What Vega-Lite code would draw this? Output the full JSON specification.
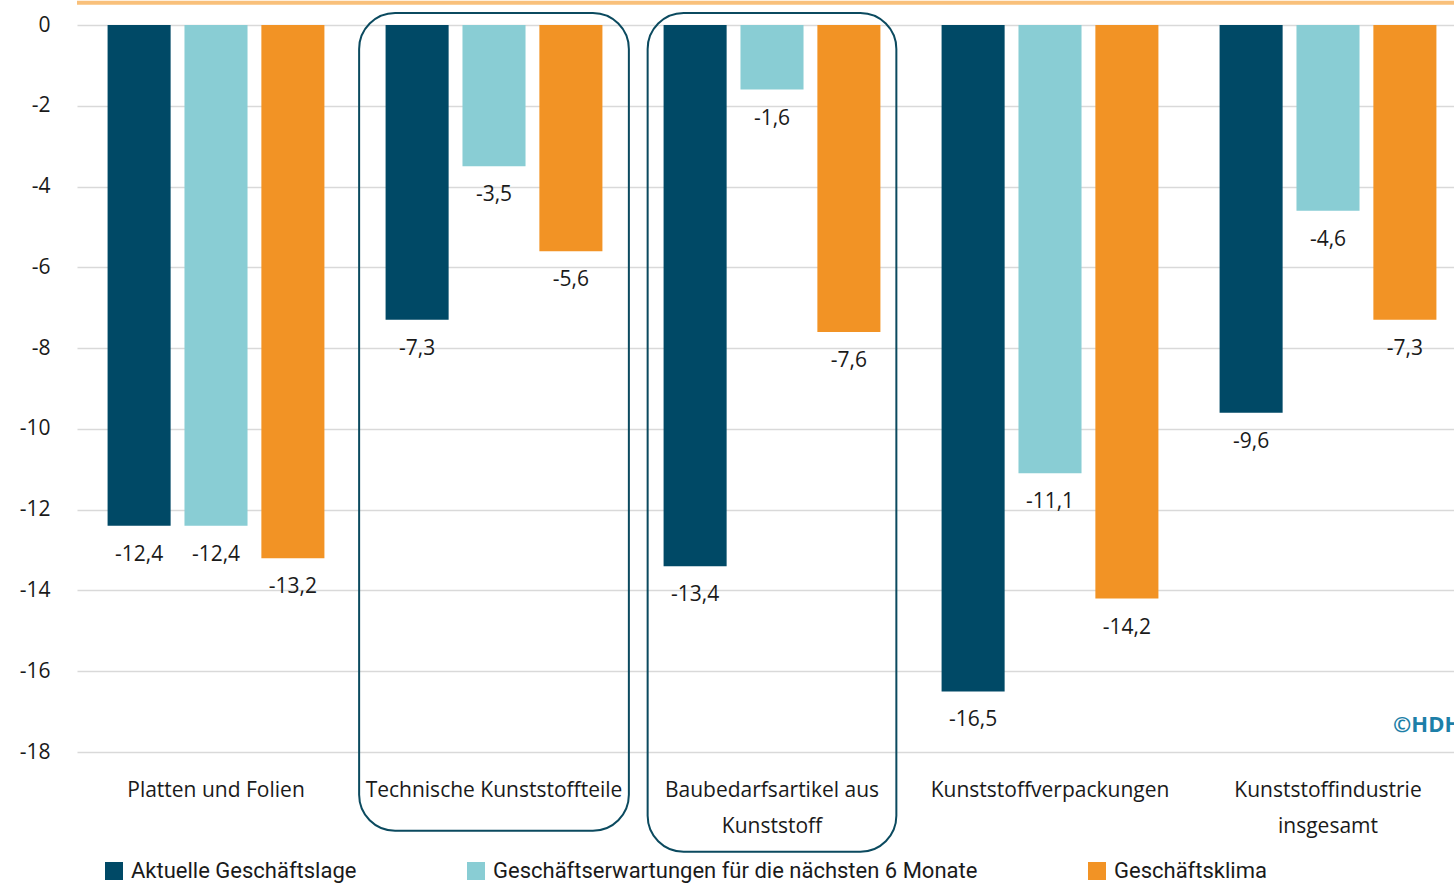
{
  "$schema": "https://vega.github.io/schema/vega-lite/v6.json",
  "width": 1377,
  "height": 727,
  "autosize": "none",
  "padding": {"left": 77, "top": 25, "right": 0, "bottom": 131},
  "config": {
    "view": {"stroke": null},
    "font": "Open Sans",
    "locale": {"number": {"decimal": ",", "thousands": ".", "grouping": [3], "currency": ["", " €"], "minus": "-"}}
  },
  "data": {"values": [
    {"category": "Platten und Folien", "series": "Aktuelle Geschäftslage", "value": -12.4},
    {"category": "Platten und Folien", "series": "Geschäftserwartungen für die nächsten 6 Monate", "value": -12.4},
    {"category": "Platten und Folien", "series": "Geschäftsklima", "value": -13.2},
    {"category": "Technische Kunststoffteile", "series": "Aktuelle Geschäftslage", "value": -7.3},
    {"category": "Technische Kunststoffteile", "series": "Geschäftserwartungen für die nächsten 6 Monate", "value": -3.5},
    {"category": "Technische Kunststoffteile", "series": "Geschäftsklima", "value": -5.6},
    {"category": "Baubedarfsartikel aus Kunststoff", "series": "Aktuelle Geschäftslage", "value": -13.4},
    {"category": "Baubedarfsartikel aus Kunststoff", "series": "Geschäftserwartungen für die nächsten 6 Monate", "value": -1.6},
    {"category": "Baubedarfsartikel aus Kunststoff", "series": "Geschäftsklima", "value": -7.6},
    {"category": "Kunststoffverpackungen", "series": "Aktuelle Geschäftslage", "value": -16.5},
    {"category": "Kunststoffverpackungen", "series": "Geschäftserwartungen für die nächsten 6 Monate", "value": -11.1},
    {"category": "Kunststoffverpackungen", "series": "Geschäftsklima", "value": -14.2},
    {"category": "Kunststoffindustrie insgesamt", "series": "Aktuelle Geschäftslage", "value": -9.6},
    {"category": "Kunststoffindustrie insgesamt", "series": "Geschäftserwartungen für die nächsten 6 Monate", "value": -4.6},
    {"category": "Kunststoffindustrie insgesamt", "series": "Geschäftsklima", "value": -7.3}
  ]},
  "encoding": {
    "x": {
      "field": "category", "type": "nominal",
      "sort": ["Platten und Folien", "Technische Kunststoffteile", "Baubedarfsartikel aus Kunststoff", "Kunststoffverpackungen", "Kunststoffindustrie insgesamt"],
      "scale": {"range": [0, 1390], "paddingInner": 0.22, "paddingOuter": 0.11},
      "axis": {
        "title": null, "domain": false, "ticks": false, "labelAngle": 0,
        "labelFontSize": 21, "labelColor": "#1a1a1a", "labelPadding": 27, "labelLineHeight": 36, "labelLimit": 0,
        "labelExpr": "datum.value == 'Baubedarfsartikel aus Kunststoff' ? ['Baubedarfsartikel aus', 'Kunststoff'] : datum.value == 'Kunststoffindustrie insgesamt' ? ['Kunststoffindustrie', 'insgesamt'] : datum.value"
      }
    },
    "y": {
      "field": "value", "type": "quantitative",
      "scale": {"domain": [-18, 0], "nice": false},
      "axis": {
        "title": null, "domain": false, "ticks": false, "values": [-18, -16, -14, -12, -10, -8, -6, -4, -2, 0],
        "format": "d", "labelFontSize": 21, "labelColor": "#1a1a1a", "labelPadding": 27,
        "gridColor": "#d9d9d9", "gridWidth": 1.5
      }
    }
  },
  "layer": [
    {
      "data": {"values": [{"level": 0.55}]},
      "mark": {"type": "rule", "color": "#F9C07A", "strokeWidth": 4, "clip": false},
      "encoding": {"x": null, "y": {"field": "level", "type": "quantitative"}}
    },
    {
      "mark": {"type": "bar"},
      "encoding": {
        "xOffset": {"field": "series", "type": "nominal", "sort": ["Aktuelle Geschäftslage", "Geschäftserwartungen für die nächsten 6 Monate", "Geschäftsklima"], "scale": {"paddingInner": 0.18, "paddingOuter": 0}},
        "color": {
          "field": "series", "type": "nominal",
          "scale": {"domain": ["Aktuelle Geschäftslage", "Geschäftserwartungen für die nächsten 6 Monate", "Geschäftsklima"], "range": ["#004966", "#89CDD4", "#F29325"]},
          "legend": {
            "title": null, "orient": "none", "legendX": 26, "legendY": 835, "direction": "horizontal", "columns": 3,
            "columnPadding": 108, "symbolType": "square", "symbolSize": 324, "symbolStrokeWidth": 0, "symbolOpacity": 1,
            "labelFont": "Roboto", "labelFontSize": 22, "labelColor": "#1a1a1a", "labelLimit": 0, "labelOffset": 6
          }
        }
      }
    },
    {
      "mark": {"type": "text", "baseline": "middle", "dy": 29, "fontSize": 21, "color": "#1a1a1a"},
      "encoding": {
        "xOffset": {"field": "series", "type": "nominal", "sort": ["Aktuelle Geschäftslage", "Geschäftserwartungen für die nächsten 6 Monate", "Geschäftsklima"]},
        "text": {"field": "value", "type": "quantitative", "format": ".1f"}
      }
    },
    {
      "data": {"values": [{"category": "Technische Kunststoffteile", "top": 0.3, "bottom": -19.95}]},
      "mark": {"type": "bar", "width": {"band": 1.244}, "fillOpacity": 0, "stroke": "#0b4a5f", "strokeWidth": 2, "cornerRadius": 36, "clip": false},
      "encoding": {"y": {"field": "top", "type": "quantitative"}, "y2": {"field": "bottom"}}
    },
    {
      "data": {"values": [{"category": "Baubedarfsartikel aus Kunststoff", "top": 0.3, "bottom": -20.47}]},
      "mark": {"type": "bar", "width": {"band": 1.147}, "fillOpacity": 0, "stroke": "#0b4a5f", "strokeWidth": 2, "cornerRadius": 36, "clip": false},
      "encoding": {"y": {"field": "top", "type": "quantitative"}, "y2": {"field": "bottom"}}
    },
    {
      "data": {"values": [{"category": "Kunststoffindustrie insgesamt", "value": -17.33, "label": "©HDH"}]},
      "mark": {"type": "text", "align": "left", "baseline": "middle", "fontSize": 22, "fontWeight": "bold", "color": "#1d7fa8"},
      "encoding": {"x": {"field": "category", "type": "nominal", "bandPosition": 0.8}, "text": {"field": "label"}}
    }
  ]
}
